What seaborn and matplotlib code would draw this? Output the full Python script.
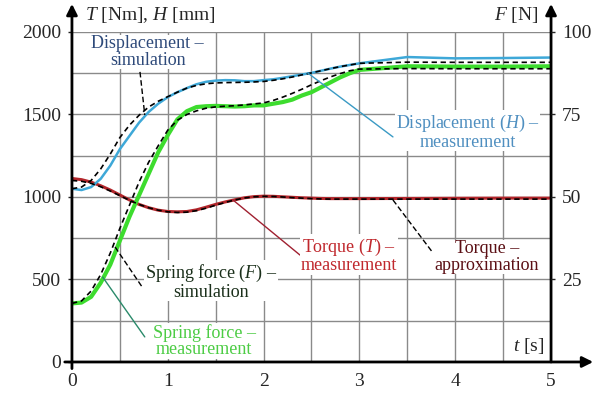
import numpy as np
import pandas as pd
import matplotlib
matplotlib.use("Agg")
import matplotlib.pyplot as plt
import seaborn as sns

# time samples (s)
t = [0.0, 0.1, 0.2, 0.3, 0.4, 0.5, 0.6, 0.7, 0.8, 0.9, 1.0, 1.1, 1.2, 1.3, 1.4, 1.5,
     1.6, 1.7, 1.8, 1.9, 2.0, 2.1, 2.2, 2.3, 2.4, 2.5, 2.6, 2.7, 2.8, 2.9, 3.0,
     3.5, 4.0, 4.5, 5.0]

# displacement H [mm]
disp_meas = [1050, 1042, 1060, 1110, 1190, 1290, 1370, 1450, 1515, 1565, 1605, 1635, 1660,
             1683, 1698, 1705, 1708, 1707, 1702, 1702, 1708, 1713, 1722, 1732, 1742, 1752,
             1765, 1778, 1790, 1800, 1810, 1848, 1840, 1842, 1845]
disp_sim = [1050, 1060, 1100, 1170, 1260, 1360, 1435, 1495, 1545, 1580, 1608, 1635, 1660,
            1676, 1686, 1691, 1693, 1694, 1695, 1697, 1700, 1707, 1716, 1727, 1740, 1752,
            1765, 1778, 1790, 1800, 1810, 1817, 1816, 1816, 1816]

# spring force F, on the left scale (F [N] * 20)
spring_meas = [355, 360, 395, 480, 590, 735, 880, 1010, 1140, 1270, 1375, 1470, 1520, 1545,
               1550, 1552, 1550, 1548, 1550, 1555, 1555, 1565, 1575, 1590, 1615, 1635, 1665,
               1695, 1725, 1750, 1770, 1792, 1790, 1790, 1792]
spring_sim = [355, 370, 430, 530, 660, 810, 950, 1090, 1210, 1310, 1405, 1465, 1500, 1522,
              1538, 1546, 1550, 1553, 1558, 1564, 1570, 1585, 1605, 1628, 1653, 1680, 1705,
              1728, 1748, 1765, 1775, 1778, 1777, 1777, 1777]

# torque T [Nm]
torque_meas = [1112, 1105, 1090, 1068, 1042, 1012, 982, 955, 935, 920, 912, 910, 912, 922,
               938, 955, 970, 983, 995, 1002, 1005, 1004, 1001, 998, 995, 993, 991, 990,
               990, 990, 990, 991, 992, 993, 993]
torque_approx = [1100, 1095, 1082, 1062, 1036, 1008, 980, 955, 935, 920, 910, 906, 908, 917,
                 932, 950, 967, 982, 994, 1001, 1004, 1003, 1000, 996, 993, 990, 988, 987,
                 987, 987, 987, 987, 987, 987, 987]

x_ticks = [0, 1, 2, 3, 4, 5]
left_ticks = [0, 500, 1000, 1500, 2000]
right_ticks = [25, 50, 75, 100]

sns.set_style("white")
plt.rcParams['font.family'] = ['Liberation Serif', 'DejaVu Serif']
plt.rcParams['mathtext.fontset'] = 'custom'
plt.rcParams['mathtext.rm'] = 'Liberation Serif'
plt.rcParams['mathtext.it'] = 'Liberation Serif:italic'

fig = plt.figure(figsize=(6.15, 4.01), dpi=100)
ax = fig.add_axes([0.117, 0.0973, 0.779, 0.823])

# grid
for gx in np.arange(0.5, 5.0, 0.5):
    ax.axvline(gx, color='#8a8a8a', lw=1, zorder=0)
for gy in np.arange(250, 2001, 250):
    ax.axhline(gy, color='#8a8a8a', lw=1, zorder=0)

dash = (3.2, 2.2)
sns.lineplot(x=t, y=torque_meas, ax=ax, color='#b3262b', lw=2.2, zorder=3)
sns.lineplot(x=t, y=torque_approx, ax=ax, color='black', lw=1.2,
             linestyle=(0, dash), zorder=4)
sns.lineplot(x=t, y=spring_meas, ax=ax, color='#3ddc2e', lw=3, zorder=3)
sns.lineplot(x=t, y=spring_sim, ax=ax, color='black', lw=1.2,
             linestyle=(0, dash), zorder=4)
sns.lineplot(x=t, y=disp_meas, ax=ax, color='#3ea8d8', lw=1.8, zorder=3)
sns.lineplot(x=t, y=disp_sim, ax=ax, color='black', lw=1.2,
             linestyle=(0, dash), zorder=4)

ax.set_xlim(0, 5)
ax.set_ylim(0, 2000)
ax.set_xticks(x_ticks)
ax.set_yticks(left_ticks)
ax.tick_params(axis='both', labelsize=14, length=3, width=1, pad=5, direction='out')
for s in ax.spines.values():
    s.set_visible(False)
ax.set_xlabel('')
ax.set_ylabel('')

ax2 = ax.twinx()
ax2.set_ylim(0, 100)
ax2.set_yticks(right_ticks)
ax2.tick_params(axis='y', labelsize=14, length=3, width=1, pad=5)
for s in ax2.spines.values():
    s.set_visible(False)

# axes with arrows
arr = dict(arrowstyle='-|>', lw=2, color='black', mutation_scale=16, shrinkA=0, shrinkB=0)
ax.annotate('', xy=(0, 1.085), xytext=(0, -0.02), xycoords='axes fraction', arrowprops=arr)
ax.annotate('', xy=(1, 1.085), xytext=(1, 0), xycoords='axes fraction', arrowprops=arr)
ax.annotate('', xy=(1.088, 0), xytext=(-0.015, 0), xycoords='axes fraction', arrowprops=arr)

ax.text(0.027, 1.052, r'$T$ [Nm], $H$ [mm]', transform=ax.transAxes, fontsize=14,
        ha='left', va='center')
ax.text(0.973, 1.052, r'$F$ [N]', transform=ax.transAxes, fontsize=14,
        ha='right', va='center')
ax.text(0.987, 0.048, r'$t$ [s]', transform=ax.transAxes, fontsize=14,
        ha='right', va='center')

# leader lines
ax.plot([0.71, 0.76], [1758, 1497], color='black', lw=1, linestyle=(0, (4, 2)), zorder=5)
ax.plot([3.35, 2.46], [1364, 1752], color='#3a9ac4', lw=1, zorder=5)
ax.plot([1.68, 2.38], [982, 648], color='#a02030', lw=1, zorder=5)
ax.plot([3.35, 3.76], [982, 667], color='black', lw=1, linestyle=(0, (4, 2)), zorder=5)
ax.plot([0.45, 0.74], [697, 448], color='black', lw=1, linestyle=(0, (4, 2)), zorder=5)
ax.plot([0.32, 0.76], [515, 152], color='#2a8a6a', lw=1, zorder=5)

box = dict(facecolor='white', edgecolor='none', pad=0.5)
kw = dict(fontsize=13, ha='center', va='center', linespacing=0.95, zorder=6)
ax.text(0.79, 1879, 'Displacement –\nsimulation', color='#2e4a7a', bbox=box, **kw)
ax.text(4.13, 1394, 'Displacement ($H$) –\nmeasurement', color='#4f8fc0', bbox=box, **kw)
ax.text(2.89, 645, 'Torque ($T$) –\nmeasurement', color='#c0282d', bbox=box, **kw)
ax.text(4.33, 636, 'Torque –\napproximation', color='#5b0f14', bbox=box, **kw)
ax.text(1.45, 485, 'Spring force ($F$) –\nsimulation', color='#1a2f1a', bbox=box, **kw)
ax.text(1.38, 127, 'Spring force –\nmeasurement', color='#4ccc44', bbox=box, **kw)

fig.savefig('out.png', dpi=100)
